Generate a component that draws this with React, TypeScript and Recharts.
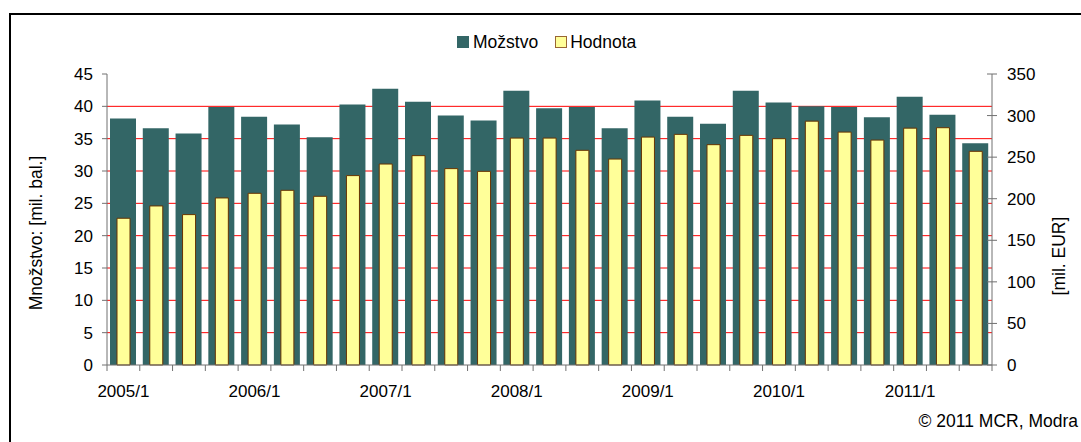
import React from "react";
import { Bar, BarChart, CartesianGrid, XAxis, YAxis } from "recharts";

// quarterly periods 2005/1 .. 2011/3
const periods = [
  "2005/1", "2005/2", "2005/3", "2005/4",
  "2006/1", "2006/2", "2006/3", "2006/4",
  "2007/1", "2007/2", "2007/3", "2007/4",
  "2008/1", "2008/2", "2008/3", "2008/4",
  "2009/1", "2009/2", "2009/3", "2009/4",
  "2010/1", "2010/2", "2010/3", "2010/4",
  "2011/1", "2011/2", "2011/3",
];

// mil. bal. (left axis)
const mnozstvo = [
  38.1, 36.6, 35.8, 39.9, 38.4, 37.2, 35.2, 40.3, 42.7, 40.7, 38.6, 37.8, 42.4, 39.7,
  39.9, 36.6, 40.9, 38.4, 37.3, 42.4, 40.6, 40.0, 39.9, 38.3, 41.5, 38.7, 34.3,
];

// mil. EUR (right axis)
const hodnota = [
  176.5, 191.3, 180.9, 200.9, 206.5, 210.1, 202.9, 227.8, 241.7, 251.8, 236.2, 232.9,
  272.9, 272.9, 258.2, 247.7, 274.1, 277.4, 265.0, 276.2, 272.2, 293.3, 280.1, 270.5,
  284.9, 285.4, 257.0,
];

const leftTicks = [0, 5, 10, 15, 20, 25, 30, 35, 40, 45];
const rightTicks = [0, 50, 100, 150, 200, 250, 300, 350];
const gridValues = [5, 10, 15, 20, 25, 30, 35, 40];

const data = periods.map((period, i) => ({
  period,
  mnozstvo: mnozstvo[i],
  hodnota: hodnota[i],
}));

const W = 1081;
const H = 442;
const LEFT_AXIS_W = 107;
const RIGHT_AXIS_W = 89;
const BAND = (W - LEFT_AXIS_W - RIGHT_AXIS_W) / periods.length;
const FONT = '"Liberation Sans", Arial, sans-serif';
const AXIS = "#707070";
const DARK = "#336666";
const YELLOW = "#FFFF99";
const BROWN = "#663300";

const XTick = (props: any) => {
  const { x, y, payload, index } = props;
  const left = x - BAND / 2;
  const showLabel = String(payload.value).endsWith("/1");
  return (
    <g>
      <line x1={left} x2={left} y1={y} y2={y + 6} stroke={AXIS} />
      {index === periods.length - 1 && (
        <line x1={x + BAND / 2} x2={x + BAND / 2} y1={y} y2={y + 6} stroke={AXIS} />
      )}
      {showLabel && (
        <text x={x} y={y + 32} textAnchor="middle" fontSize={17} fill="#000">
          {payload.value}
        </text>
      )}
    </g>
  );
};

const RightTick = (props: any) => {
  const { x, y, payload } = props;
  return (
    <g>
      <line x1={x - 5} x2={x + 5} y1={y} y2={y} stroke={AXIS} />
      <text x={x + 15} y={y} dy="0.35em" fontSize={17} fill="#000">
        {payload.value}
      </text>
    </g>
  );
};

const gridLines = ({ yAxis, offset }: any) =>
  gridValues.map((v) =>
    yAxis && typeof yAxis.scale === "function"
      ? yAxis.scale(v)
      : offset.top + offset.height * (1 - v / 45)
  );

export default function App() {
  return (
    <div
      style={{
        position: "absolute",
        left: 0,
        top: 0,
        width: W,
        height: H,
        overflow: "hidden",
        background: "#fff",
        fontFamily: FONT,
        color: "#000",
      }}
    >
      <div
        style={{
          position: "absolute",
          left: 9,
          top: 13,
          width: 1200,
          height: 600,
          borderTop: "2px solid #000",
          borderLeft: "2px solid #000",
        }}
      />

      <BarChart
        width={W}
        height={H}
        data={data}
        margin={{ top: 74, right: 0, bottom: 47, left: 0 }}
        style={{ position: "absolute", left: 0, top: 0 }}
      >
        <CartesianGrid
          xAxisId="a"
          yAxisId="left"
          vertical={false}
          stroke="#ff0000"
          horizontalCoordinatesGenerator={gridLines}
        />
        <XAxis
          xAxisId="a"
          dataKey="period"
          interval={0}
          stroke={AXIS}
          tickLine={false}
          tickSize={0}
          tickMargin={0}
          tick={XTick}
        />
        <XAxis xAxisId="b" dataKey="period" hide />
        <YAxis
          yAxisId="left"
          orientation="left"
          width={LEFT_AXIS_W}
          domain={[0, 45]}
          ticks={leftTicks}
          interval={0}
          stroke={AXIS}
          tickSize={5}
          tickMargin={9}
          tick={{ fill: "#000", fontSize: 17 }}
        />
        <YAxis
          yAxisId="right"
          orientation="right"
          width={RIGHT_AXIS_W}
          domain={[0, 350]}
          ticks={rightTicks}
          interval={0}
          stroke={AXIS}
          tickLine={false}
          tickSize={0}
          tickMargin={0}
          tick={RightTick}
        />
        <Bar
          xAxisId="a"
          yAxisId="left"
          dataKey="mnozstvo"
          name="Možstvo"
          fill={DARK}
          barSize={26}
          isAnimationActive={false}
        />
        <Bar
          xAxisId="b"
          yAxisId="right"
          dataKey="hodnota"
          name="Hodnota"
          fill={YELLOW}
          stroke={BROWN}
          strokeWidth={1}
          barSize={13}
          isAnimationActive={false}
        />
      </BarChart>

      {/* legend */}
      <div
        style={{
          position: "absolute",
          left: 457,
          top: 32,
          height: 20,
          display: "flex",
          alignItems: "center",
          fontSize: 17.5,
          lineHeight: "20px",
          whiteSpace: "nowrap",
        }}
      >
        <span style={{ width: 12, height: 12, background: DARK, display: "inline-block" }} />
        <span style={{ marginLeft: 4 }}>Možstvo</span>
        <span
          style={{
            width: 10,
            height: 10,
            background: YELLOW,
            border: "1px solid #996633",
            display: "inline-block",
            marginLeft: 17,
          }}
        />
        <span style={{ marginLeft: 3 }}>Hodnota</span>
      </div>

      {/* axis titles */}
      <div
        style={{
          position: "absolute",
          left: 37,
          top: 233,
          transform: "translate(-50%, -50%) rotate(-90deg)",
          fontSize: 17.5,
          lineHeight: 1,
          whiteSpace: "nowrap",
        }}
      >
        Množstvo: [mil. bal.]
      </div>
      <div
        style={{
          position: "absolute",
          left: 1060,
          top: 256,
          transform: "translate(-50%, -50%) rotate(-90deg)",
          fontSize: 17.5,
          lineHeight: 1,
          whiteSpace: "nowrap",
        }}
      >
        [mil. EUR]
      </div>

      <div
        style={{
          position: "absolute",
          right: 3,
          top: 411,
          fontSize: 17.5,
          lineHeight: "20px",
          whiteSpace: "nowrap",
        }}
      >
        © 2011 MCR, Modra
      </div>
    </div>
  );
}
